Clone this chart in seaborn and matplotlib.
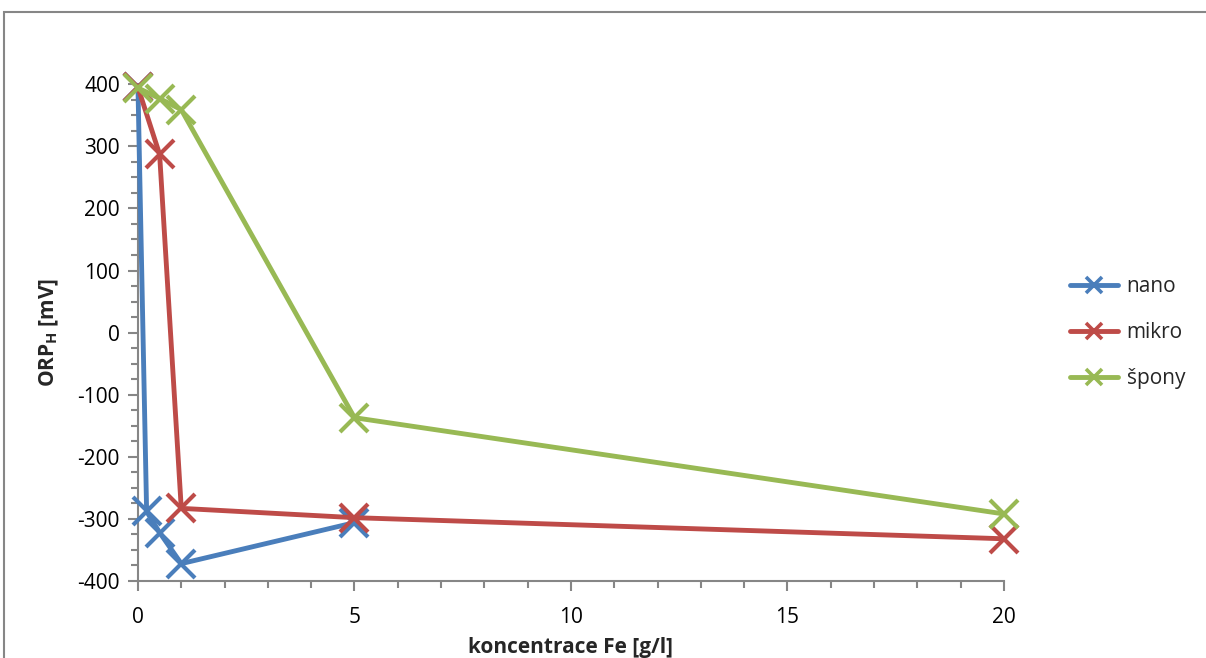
import matplotlib
matplotlib.use("Agg")
import matplotlib.pyplot as plt
import matplotlib.patches as patches
from matplotlib.ticker import MultipleLocator
import seaborn as sns
import pandas as pd

# Data
nano_x = [0, 0.2, 0.5, 1, 5]
nano_y = [395, -288, -322, -372, -306]
mikro_x = [0, 0.5, 1, 5, 20]
mikro_y = [395, 287, -283, -298, -332]
spony_x = [0, 0.5, 1, 5, 20]
spony_y = [394, 377, 359, -137, -292]

series_names = ["nano", "mikro", "špony"]
colors = ["#4A7EBB", "#BE4B48", "#98B954"]

sns.set_style("white")
plt.rcParams['font.family'] = ['Open Sans', 'DejaVu Sans']
plt.rcParams['mathtext.default'] = 'regular'
plt.rcParams['axes.unicode_minus'] = False

fig = plt.figure(figsize=(12.06, 6.58), dpi=100)
ax = fig.add_axes([0.1144, 0.117, 0.8325 - 0.1144, 0.872 - 0.117])

data = [(nano_x, nano_y), (mikro_x, mikro_y), (spony_x, spony_y)]
for name, (xs, ys), c in zip(series_names, data, colors):
    df = pd.DataFrame({"x": xs, "y": ys})
    sns.lineplot(data=df, x="x", y="y", ax=ax, sort=False, color=c, lw=3.5,
                 marker="x", markersize=20, markeredgewidth=3,
                 markeredgecolor=c, label=name, clip_on=False, zorder=3)

ax.set_xlim(0, 20)
ax.set_ylim(-400, 400)
ax.xaxis.set_major_locator(MultipleLocator(5))
ax.xaxis.set_minor_locator(MultipleLocator(1))
ax.yaxis.set_major_locator(MultipleLocator(100))
ax.yaxis.set_minor_locator(MultipleLocator(25))

gray = "#868686"
for s in ["top", "right"]:
    ax.spines[s].set_visible(False)
for s in ["left", "bottom"]:
    ax.spines[s].set_color(gray)
    ax.spines[s].set_linewidth(1.5)

ax.tick_params(axis="both", which="both", bottom=True, left=True, top=False, right=False)
ax.tick_params(axis="both", which="major", direction="out", length=7, width=1.5,
               color=gray, labelsize=15, labelcolor="black", pad=6)
ax.tick_params(axis="x", which="major", pad=12)
ax.tick_params(axis="both", which="minor", direction="out", length=5, width=1.5,
               color=gray)

ax.set_xlabel("koncentrace Fe [g/l]", fontsize=15, fontweight="bold", labelpad=6)
ax.set_ylabel("ORP$_{H}$ [mV]", fontsize=15, fontweight="bold", labelpad=12)

leg = ax.legend(loc="center left", bbox_to_anchor=(1.055, 0.5), frameon=False,
                fontsize=15, handlelength=2.3, labelspacing=1.2, handletextpad=0.4)
for h in leg.legend_handles:
    h.set_markersize(12)
    h.set_markeredgewidth(2.6)
    h.set_linewidth(3.5)

rect = patches.Rectangle((0.003, -0.5), 2.0, 0.9817 + 0.5, transform=fig.transFigure,
                         fill=False, edgecolor=gray, linewidth=1.5, clip_on=False)
fig.patches.append(rect)

fig.savefig("out.png", dpi=100)
